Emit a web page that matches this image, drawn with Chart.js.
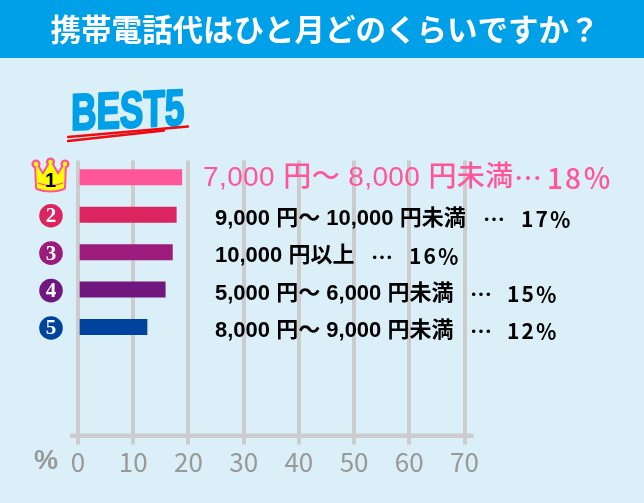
<!DOCTYPE html>
<html><head><meta charset="utf-8">
<script src="https://cdn.jsdelivr.net/npm/chart.js@4"></script>
<style>html,body{margin:0;padding:0;background:#daeff7}canvas{display:block}</style>
</head><body><canvas id="c" width="644" height="503"></canvas>
<script>
const titleText = "携帯電話代はひと月どのくらいですか？";
const ranks = [1, 2, 3, 4, 5];
const priceLabels = ["7,000 円～ 8,000 円未満", "9,000 円～ 10,000 円未満", "10,000 円以上", "5,000 円～ 6,000 円未満", "8,000 円～ 9,000 円未満"];
const percentLabels = ["18％", "17％", "16％", "15％", "12％"];
const barLengths = [18.8, 17.8, 17.1, 15.8, 12.5];
const barColors = ["#ff5599", "#db2560", "#9b1c7d", "#701880", "#00439c"];
const tickValues = [0, 10, 20, 30, 40, 50, 60, 70];
const unitLabel = "%";
const headline = "BEST5";

const LATIN_CJK = '"Liberation Sans","Noto Sans CJK JP"';
const JP = '"Noto Sans CJK JP"';
const dotX = [514, 483, 371, 470, 470];
const pctX = [547, 521, 409, 507, 507];

const deco = {
  id: 'deco',
  beforeDraw(ch) {
    const c = ch.ctx;
    c.save();
    c.fillStyle = '#daeff7'; c.fillRect(0, 0, 644, 503);
    c.fillStyle = '#00a0e9'; c.fillRect(0, 0, 644, 58);
    c.fillStyle = '#ffffff'; c.font = 'bold 30.5px ' + JP;
    c.textAlign = 'center'; c.textBaseline = 'middle';
    c.fillText(titleText, 325, 29.5);
    // BEST5 headline
    c.save();
    c.translate(71, 130); c.rotate(-0.045); c.transform(1, 0, -0.05, 1, 0, 0);
    c.scale(0.69, 1);
    c.font = 'bold 51px "Liberation Sans"';
    c.fillStyle = '#00a0e9'; c.strokeStyle = '#00a0e9'; c.lineWidth = 2.4; c.lineJoin = 'round';
    c.textAlign = 'left'; c.textBaseline = 'alphabetic';
    c.fillText(headline, 0, 0); c.strokeText(headline, 0, 0);
    c.restore();
    c.strokeStyle = '#f00a10'; c.lineCap = 'round';
    c.lineWidth = 2.4; c.beginPath(); c.moveTo(68, 137); c.lineTo(188, 126.5); c.stroke();
    c.beginPath(); c.moveTo(68, 141); c.lineTo(164, 130.5); c.stroke();
    c.restore();
  },
  afterDraw(ch) {
    const c = ch.ctx, xs = ch.scales.x, ys = ch.scales.y;
    c.save();
    // axis baseline
    c.fillStyle = '#cccccc';
    c.fillRect(xs.left - 8, ys.bottom - 2, xs.right - xs.left + 17, 4.5);
    // unit
    c.fillStyle = '#999999'; c.font = 'bold 27px "Liberation Sans"';
    c.textAlign = 'center'; c.textBaseline = 'middle';
    c.fillText(unitLabel, 46, 462);
    ranks.forEach((r, i) => {
      const y = ys.getPixelForValue(r);
      if (i === 0) {
        const body = () => {
          c.beginPath();
          c.moveTo(36, 164); c.lineTo(43, 175); c.lineTo(50.5, 162); c.lineTo(58, 175); c.lineTo(65, 164);
          c.lineTo(64, 188); c.quadraticCurveTo(50.5, 193, 37, 188); c.closePath();
        };
        c.strokeStyle = '#ff5599'; c.lineWidth = 4; c.lineJoin = 'round';
        body(); c.stroke();
        c.fillStyle = '#ffff00';
        [[36, 164], [50.5, 162], [65, 164]].forEach(p => {
          c.beginPath(); c.arc(p[0], p[1], 3.4, 0, 7); c.fill(); c.lineWidth = 2.4; c.stroke();
        });
        body(); c.fill();
        c.lineWidth = 1.2; c.beginPath(); c.moveTo(38, 183); c.quadraticCurveTo(50.5, 188, 63, 183); c.stroke();
        c.fillStyle = '#000'; c.font = 'bold 20px "Liberation Sans"';
        c.fillText(r, 50.5, 181);
      } else {
        c.fillStyle = barColors[i];
        c.beginPath(); c.arc(51, y + 1, 11.8, 0, 7); c.fill();
        c.fillStyle = '#fff'; c.font = 'bold 21px "Liberation Serif"';
        c.fillText(r, 51, y + 2);
      }
    });
    // labels
    c.textAlign = 'left'; c.textBaseline = 'middle';
    ranks.forEach((r, i) => {
      const y = ys.getPixelForValue(r) + (i === 0 ? 1 : 4);
      const size = i === 0 ? 28 : 22;
      const weight = i === 0 ? '500 ' : 'bold ';
      c.fillStyle = i === 0 ? '#ff5599' : '#000000';
      c.font = weight + size + 'px ' + LATIN_CJK;
      c.letterSpacing = i === 0 ? '0.4px' : '0px';
      c.fillText(priceLabels[i], i === 0 ? 203 : 215, y);
      c.letterSpacing = '0px';
      c.font = weight + size + 'px ' + JP;
      c.fillText('…', dotX[i], y);
      c.letterSpacing = '2px';
      c.font = weight + (i === 0 ? 28 : 21) + 'px ' + JP;
      c.fillText(percentLabels[i], pctX[i], y);
      c.letterSpacing = '0px';
    });
    c.restore();
  }
};

new Chart(document.getElementById('c'), {
  type: 'bar',
  data: {
    datasets: [{
      data: ranks.map((r, i) => ({ x: barLengths[i], y: r })),
      backgroundColor: barColors,
      borderWidth: 0,
      barThickness: 15.4,
      base: 0.36
    }]
  },
  plugins: [deco],
  options: {
    indexAxis: 'y',
    responsive: false,
    animation: false,
    devicePixelRatio: 1,
    layout: { padding: { left: 78, right: 179.5, top: 160.5, bottom: 0 } },
    plugins: {
      legend: { display: false },
      tooltip: { enabled: false },
      title: { display: false }
    },
    scales: {
      x: {
        type: 'linear', min: 0, max: 70,
        afterBuildTicks(s) { s.ticks = tickValues.map(v => ({ value: v })); },
        afterFit(s) { s.height = 67.5; },
        border: { display: false },
        grid: { color: '#cccccc', lineWidth: 4, tickLength: 9, tickColor: '#cccccc', z: -1 },
        ticks: {
          color: '#999999', maxRotation: 0, autoSkip: false, padding: 2,
          font: { family: JP, size: 26 }
        }
      },
      y: {
        type: 'linear', reverse: true, min: 0.55, max: 7.9, offset: false,
        grid: { offset: false },
        display: false
      }
    }
  }
});
</script></body></html>
